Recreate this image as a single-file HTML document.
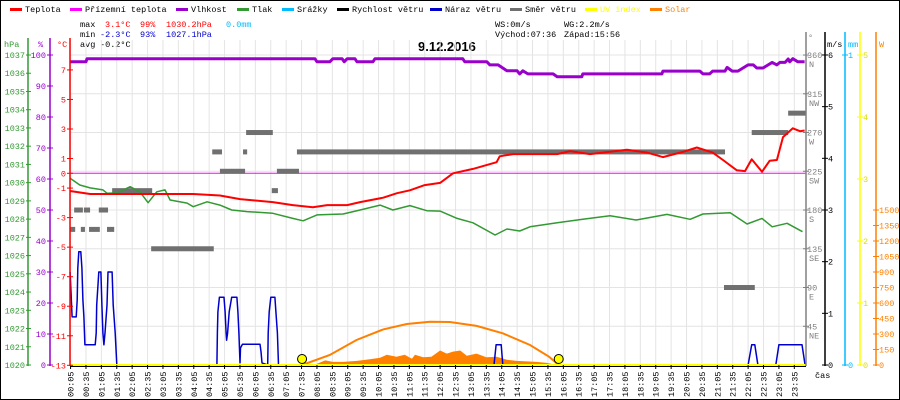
<!DOCTYPE html>
<html><head><meta charset="utf-8">
<style>
html,body{margin:0;padding:0;background:#fff;}
svg{display:block;}
text{font-family:"Liberation Mono",monospace;font-size:8.5px;}
</style></head>
<body>
<svg id="chart" width="900" height="400" xmlns="http://www.w3.org/2000/svg">
<rect x="0.5" y="0.5" width="899" height="399" fill="#fff" stroke="#000"/>
<text x="418" y="51" style="font-family:'Liberation Sans',sans-serif;font-size:13px;font-weight:bold">9.12.2016</text>
<g>
<text x="80" y="27">max</text><text x="105" y="27" fill="#f00">3.1°C</text><text x="140" y="27" fill="#f00">99%</text><text x="166" y="27" fill="#f00">1030.2hPa</text><text x="226" y="27" fill="#00bbff">0.0mm</text>
<text x="80" y="37">min</text><text x="100" y="37" fill="#00c">-2.3°C</text><text x="140" y="37" fill="#00c">93%</text><text x="166" y="37" fill="#00c">1027.1hPa</text>
<text x="80" y="47">avg</text><text x="100" y="47">-0.2°C</text>
<text x="495" y="27">WS:0m/s</text><text x="564" y="27">WG:2.2m/s</text>
<text x="495" y="37">Východ:07:36</text><text x="564" y="37">Západ:15:56</text>
</g>
<g id="grid"></g>
<g id="series"></g>
<g id="axes"></g>
<g id="legend"></g>
</svg>
<script>
// ---- data (times in minutes from midnight) ----
const tempTimes=[4,43,244,296,335,399,438,477,505,544,569,614,641,666,695,725,750,789,835,841,867,953,978,1017,1089,1128,1159,1198,1225,1256,1276,1303,1319,1332,1352,1367,1381,1393,1412,1426,1435];
const tempVals=[-1.2,-1.4,-1.4,-1.5,-1.75,-1.95,-2.15,-2.3,-2.15,-2.15,-1.95,-1.65,-1.35,-1.15,-0.8,-0.65,0,0.3,0.75,1.15,1.3,1.3,1.5,1.3,1.6,1.4,1.1,1.45,1.75,1.4,0.9,0.2,0.15,0.95,0.1,0.85,0.9,2.45,3.05,2.85,2.9];
const presTimes=[4,23,43,68,76,95,121,140,156,173,189,199,232,244,271,296,319,349,399,438,458,485,536,569,608,633,666,699,725,758,789,832,855,880,900,953,1003,1056,1107,1167,1212,1237,1290,1323,1352,1372,1401,1431];
const presVals=[1030.24,1029.87,1029.71,1029.6,1029.42,1029.43,1029.78,1029.5,1028.9,1029.5,1029.6,1029.05,1028.88,1028.68,1028.95,1028.77,1028.5,1028.41,1028.32,1028.04,1027.91,1028.23,1028.28,1028.5,1028.77,1028.5,1028.74,1028.46,1028.44,1028.04,1027.8,1027.13,1027.46,1027.35,1027.58,1027.8,1027.99,1028.19,1027.95,1028.26,1027.99,1028.28,1028.35,1027.73,1028.04,1027.58,1027.77,1027.31];
const humTimes=[4,35,37,481,485,510,516,534,538,544,559,563,594,598,769,773,816,822,838,855,875,880,886,896,945,953,1001,1003,1157,1159,1231,1237,1250,1256,1280,1284,1294,1305,1325,1335,1342,1354,1372,1381,1387,1397,1403,1406,1412,1422,1435];
const humVals=[97.8,97.8,98.8,98.8,97.8,97.8,98.8,98.8,97.8,98.8,98.8,97.8,97.8,98.8,98.8,97.8,97.8,96.8,96.8,94.9,94.9,93.9,94.9,93.9,93.9,93.0,93.0,93.9,93.9,94.8,94.8,93.9,93.9,94.8,94.8,96.0,94.8,94.8,96.8,96.8,95.8,95.8,97.6,96.8,97.6,97.6,98.7,97.8,98.8,97.8,97.8];
const gustTimes=[4,8,16,18,19,21,25,27,29,31,33,53,55,56,60,64,66,68,70,72,76,78,86,88,92,94,95,290,291,292,295,304,306,308,309,311,314,319,329,331,333,335,336,340,374,376,378,389,390,392,395,403,405,408,410,830,834,844,847,1325,1332,1338,1344,1379,1385,1430,1436];
const gustVals=[1.8,0.93,0.93,1.26,1.88,2.19,2.19,1.88,1.26,0.93,0.39,0.39,0.62,1.16,1.8,1.8,1.16,0.62,0.39,0.62,1.16,1.8,1.8,1.16,0.62,0.2,0,0,0.64,1.03,1.31,1.31,1.03,0.62,0.48,0.62,1.03,1.31,1.31,1.03,0.62,0.04,0.33,0.4,0.4,0.26,0.04,0,0.62,1.03,1.31,1.31,1.03,0.62,0,0,0.39,0.39,0,0,0.39,0.39,0,0,0.39,0.39,0];
const dirStarts=[12,31,60,4,25,41,76,86,162,281,341,446,347,296,407,397,1278,1332,1403];
const dirEnds=[29,43,78,14,33,62,90,164,284,300,349,1280,399,345,450,409,1338,1403,1438];
const dirVals=[180,180,180,157.5,157.5,157.5,157.5,202.5,135,247.5,247.5,247.5,270,225,225,202.5,90,270,292.5];
const solarTimes=[471,484,501,516,536,563,588,608,621,640,656,670,676,692,708,725,738,750,764,777,796,815,835,855,874,894,913,933,952];
const solarVals=[0,10,45,30,30,40,55,70,100,80,100,60,100,75,80,140,110,130,140,90,110,75,80,50,40,35,30,20,0];
const clearTimes=[456,510,562,614,660,705,744,796,847,900,937,956];
const clearVals=[0,97,242,345,397,419,416,378,307,194,80,0];
const sunEvents=[456,956];
const timeLabels=[];
for(let h=0;h<24;h++){const hh=(h<10?'0':'')+h;timeLabels.push(hh+':05');timeLabels.push(hh+':35');}
const hpaTicks=[1037,1036,1035,1034,1033,1032,1031,1030,1029,1028,1027,1026,1025,1024,1023,1022,1021,1020];
const humTicks=[100,90,80,70,60,50,40,30,20,10,0];
const tempTicks=[7,5,3,1,0,-1,-3,-5,-7,-9,-11,-13];
const dirTicks=[360,315,270,225,180,135,90,45];
const dirNames=['N','NW','W','SW','S','SE','E','NE'];
const windTicks=[6,5,4,3,2,1,0];
const uvTicks=[5,4,3,2,1,0];
const solarTicks=[1500,1350,1200,1050,900,750,600,450,300,150,0];

// ---- scales ----
const X=m=>68+m*0.5133;
const yT=t=>173.3-t*14.77;
const yP=p=>55+(1037-p)*18.235;
const yH=h=>365-h*3.1;
const yW=v=>365-v*51.67;
const yD=d=>365-d*0.861;
const yS=w=>365-w*0.10333;
const yU=u=>365-u*62;

const NS='http://www.w3.org/2000/svg';
function mk(parent,tag,attrs){const e=document.createElementNS(NS,tag);for(const k in attrs)e.setAttribute(k,attrs[k]);parent.appendChild(e);return e;}
function txt(parent,x,y,s,fill,anchor){const e=mk(parent,'text',{x:x,y:y,fill:fill||'#000','text-anchor':anchor||'start'});e.textContent=s;return e;}
const grid=document.getElementById('grid'),ser=document.getElementById('series'),axes=document.getElementById('axes'),leg=document.getElementById('legend');

// grid
for(let i=0;i<=8;i++){const y=55+i*38.75;const l=mk(grid,'line',{x1:70,x2:806,y1:y,y2:y,stroke:'#e4e4e4'});

}
timeLabels.forEach((s,i)=>{const m=5+i*30;const x=X(m);
const g=mk(grid,'line',{x1:x,x2:x,y1:40,y2:365,stroke:'#e4e4e4'});


mk(axes,'line',{x1:x,x2:x,y1:365,y2:369,stroke:'#000'});
const t=txt(axes,0,0,s,'#000');t.setAttribute('transform','translate('+(x+3)+',397) rotate(-90)');

});
txt(axes,815,378,'čas','#000');

// zero ground temp line
const zl=mk(ser,'line',{x1:70,x2:806,y1:yT(0),y2:yT(0),stroke:'#ff00ff','stroke-width':1});



// solar fill
{let d='M'+X(solarTimes[0])+','+yS(0);solarTimes.forEach((t,i)=>{d+=' L'+X(t).toFixed(1)+','+yS(solarVals[i]).toFixed(1);});d+=' L'+X(solarTimes[solarTimes.length-1])+','+yS(0)+' Z';
const p=mk(ser,'path',{d:d,fill:'#ff8000'});

}
// clear sky arc
{const pts=clearTimes.map((t,i)=>X(t).toFixed(1)+','+yS(clearVals[i]).toFixed(1)).join(' ');
const p=mk(ser,'polyline',{points:pts,fill:'none',stroke:'#ff8000','stroke-width':2});

}
// direction bars
dirVals.forEach((d,i)=>{const y=yD(d);const r=mk(ser,'rect',{x:X(dirStarts[i]),y:y-2.5,width:Math.max(3,X(dirEnds[i])-X(dirStarts[i])),height:5,fill:'#707070'});

});
function line(times,vals,fy,color,w,name){const pts=times.map((t,i)=>X(t).toFixed(1)+','+fy(vals[i]).toFixed(1)).join(' ');
const p=mk(ser,'polyline',{points:pts,fill:'none',stroke:color,'stroke-width':w,'stroke-linejoin':'round'});

}
line(presTimes,presVals,yP,'#339933',1.5,'pressure-line');
line(humTimes,humVals,yH,'#9900cc',3,'humidity-line');
line(tempTimes,tempVals,yT,'#ff0000',2,'temperature-line');
line(gustTimes,gustVals,yW,'#0000cc',1.5,'wind-gust-line');
// baseline UV
const uv=mk(ser,'line',{x1:70,x2:806,y1:365,y2:365,stroke:'#ffff00','stroke-width':2});


mk(ser,'line',{x1:70,x2:806,y1:366.5,y2:366.5,stroke:'#000','stroke-width':1});
sunEvents.forEach(m=>{const c=mk(ser,'circle',{cx:X(m),cy:359,r:4.5,fill:'#ffff00',stroke:'#000','stroke-width':1});

});

// axes
function vaxis(x,color,name,y1){const l=mk(axes,'line',{x1:x,x2:x,y1:y1||38,y2:366,stroke:color,'stroke-width':1.5});

}
vaxis(28,'#339933','hpa-axis');vaxis(50,'#9900cc','humidity-axis');vaxis(70,'#ff0000','temp-axis');
vaxis(806,'#808080','direction-axis',32);vaxis(825,'#000','wind-axis',32);vaxis(845,'#00bbff','rain-axis',32);vaxis(860,'#ffff00','uv-axis',32);vaxis(876,'#ff8000','solar-axis',32);
txt(axes,4,47,'hPa','#339933');txt(axes,38,47,'%','#9900cc');txt(axes,57,47,'°C','#ff0000');
txt(axes,808,40,'°','#808080');txt(axes,827,47,'m/s','#000');txt(axes,848,47,'mm','#00bbff');txt(axes,879,47,'W','#ff8000');
hpaTicks.forEach(p=>{const y=yP(p);mk(axes,'line',{x1:26,x2:31,y1:y,y2:y,stroke:'#339933'});txt(axes,25,y+3,String(p),'#339933','end');});
humTicks.forEach(h=>{const y=yH(h);mk(axes,'line',{x1:47,x2:53,y1:y,y2:y,stroke:'#9900cc'});txt(axes,46,y+3,String(h),'#9900cc','end');});
tempTicks.forEach(t=>{const y=yT(t);mk(axes,'line',{x1:67,x2:73,y1:y,y2:y,stroke:'#ff0000'});txt(axes,66,y+3,String(t),'#ff0000','end');});
dirTicks.forEach((d,i)=>{const y=yD(d);mk(axes,'line',{x1:803,x2:809,y1:y,y2:y,stroke:'#808080'});txt(axes,807,y+3,String(d),'#808080');txt(axes,809,y+12,dirNames[i],'#808080');});
windTicks.forEach(v=>{const y=yW(v);mk(axes,'line',{x1:822,x2:828,y1:y,y2:y,stroke:'#000'});txt(axes,828,y+3,String(v),'#000');});
[1,0].forEach(v=>{const y=v?55:365;mk(axes,'line',{x1:842,x2:848,y1:y,y2:y,stroke:'#00bbff'});txt(axes,848,y+3,String(v),'#00bbff');});
uvTicks.forEach(u=>{const y=yU(u);mk(axes,'line',{x1:857,x2:863,y1:y,y2:y,stroke:'#ffff00'});txt(axes,863,y+3,String(u),'#dddd00');});
solarTicks.forEach(w=>{const y=yS(w);mk(axes,'line',{x1:873,x2:879,y1:y,y2:y,stroke:'#ff8000'});txt(axes,879,y+3,String(w),'#ff8000');});

// legend
const legX=[10,70,176,237,282,337,430,510,585,650];
const legC=['#ff0000','#ff00ff','#9900cc','#339933','#00bbff','#000000','#0000cc','#707070','#ffff00','#ff8000'];
const legT=['Teplota','Přízemní teplota','Vlhkost','Tlak','Srážky','Rychlost větru','Náraz větru','Směr větru','UV index','Solar'];
legT.forEach((s,i)=>{const g=mk(leg,'g',{});


mk(g,'rect',{x:legX[i],y:8,width:12,height:3,fill:legC[i]});
txt(g,legX[i]+15,12,s,(i>=8)?legC[i]:'#000');});
</script>
</body></html>
